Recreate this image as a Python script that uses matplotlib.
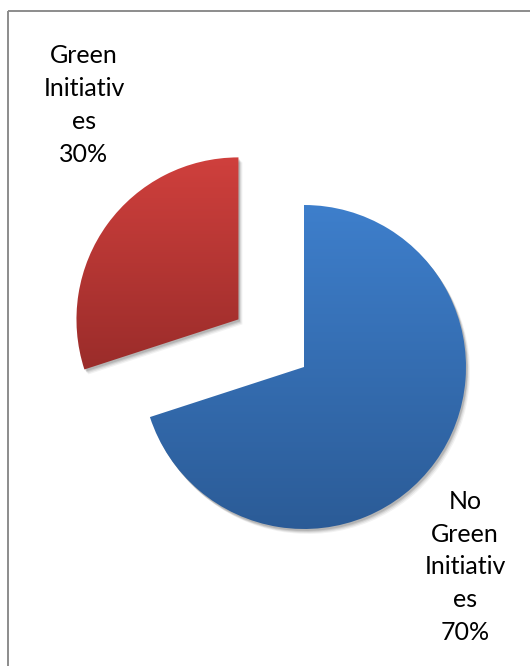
import numpy as np
import matplotlib
matplotlib.use("Agg")
import matplotlib.pyplot as plt
from matplotlib.patches import Wedge
from matplotlib.colors import LinearSegmentedColormap

categories = ["No Green Initiatives", "Green Initiatives"]
label_texts = ["No\nGreen\nInitiativ\nes\n70%", "Green\nInitiativ\nes\n30%"]
values = [70, 30]
explode_frac = [0.0, 0.5]

W, H = 530, 666
fig = plt.figure(figsize=(W / 100, H / 100), dpi=100)
ax = fig.add_axes([0, 0, 1, 1])

R = 162
center = (304, H - 367)

grad = {
    0: ("#3e7fcc", "#2b5b96"),
    1: ("#d0403d", "#9a2c2a"),
}

wedges, _ = ax.pie(values, explode=[e * R for e in explode_frac], startangle=90,
                   counterclock=False, radius=R, center=center,
                   colors=["#3470b5", "#b53533"], frame=True)

for i, w in enumerate(wedges):
    w.set_visible(False)
    # soft shadow
    for (dx, dy, a) in [(4, -5, 0.05), (3, -4, 0.07), (2, -3, 0.09), (1.5, -2, 0.11)]:
        sh = Wedge((w.center[0] + dx, w.center[1] + dy), w.r, w.theta1, w.theta2,
                   facecolor="black", edgecolor="none", alpha=a, zorder=1)
        ax.add_patch(sh)
    verts = w.get_path().vertices
    ymin, ymax = verts[:, 1].min(), verts[:, 1].max()
    xmin, xmax = verts[:, 0].min(), verts[:, 0].max()
    top, bot = grad[i]
    cmap = LinearSegmentedColormap.from_list("g%d" % i, [bot, top])
    g = np.linspace(0, 1, 256).reshape(-1, 1)
    im = ax.imshow(g, cmap=cmap, origin="lower", aspect="auto",
                   extent=[xmin - 2, xmax + 2, ymin - 2, ymax + 2], zorder=2,
                   interpolation="bilinear")
    clip = Wedge(w.center, w.r, w.theta1, w.theta2, facecolor="none", edgecolor="none")
    ax.add_patch(clip)
    im.set_clip_path(clip)

ax.set_aspect("auto")
ax.set_xlim(0, W)
ax.set_ylim(0, H)
ax.axis("off")

# chart border (top and left edges visible)
ax.plot([7.5, W + 5], [H - 10.5, H - 10.5], color="#8c8c8c", lw=1.4, zorder=0,
        solid_capstyle="butt", clip_on=False)
ax.plot([7.5, 7.5], [H - 10.5, -5], color="#8c8c8c", lw=1.4, zorder=0,
        solid_capstyle="butt", clip_on=False)

font = dict(family=["Lato", "DejaVu Sans"], fontsize=18, color="#000000",
            ha="center", va="center", linespacing=1.52, zorder=5)
ax.text(465, H - 567, label_texts[0], **font)
ax.text(84, H - 105, label_texts[1], **font)

fig.savefig("out.png", dpi=100)
